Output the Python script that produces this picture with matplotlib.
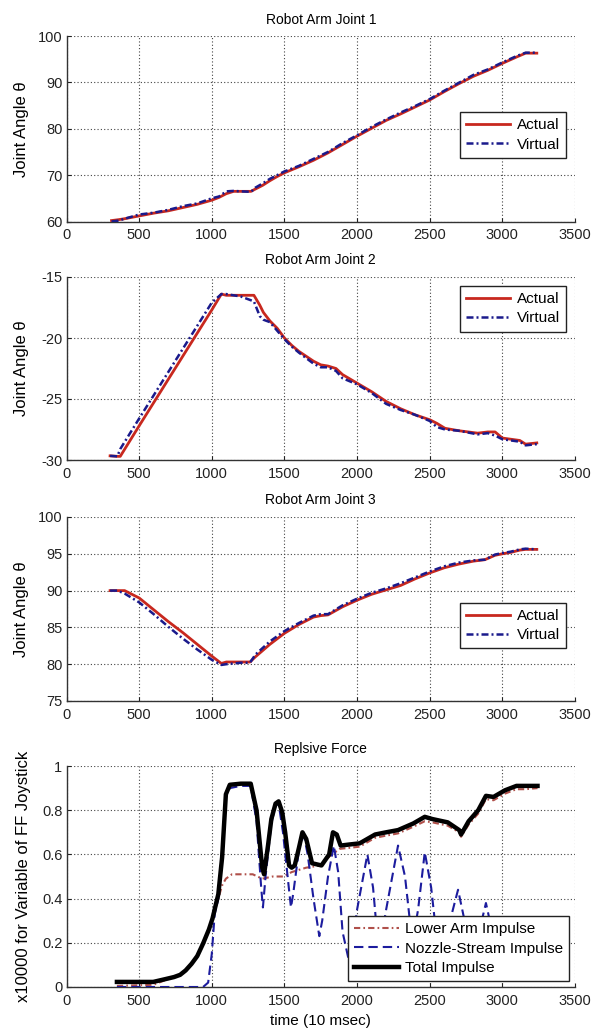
import matplotlib
matplotlib.use("Agg")
import matplotlib.pyplot as plt
from matplotlib.lines import Line2D

# ---------------- data ----------------
# Joint 1
x1 = [310, 360, 400, 500, 600, 700, 800, 900, 1000, 1050, 1100, 1150, 1200, 1270, 1300, 1350,
      1400, 1450, 1500, 1600, 1700, 1800, 1900, 2000, 2100, 2200, 2300, 2400, 2500, 2600,
      2700, 2800, 2900, 3000, 3100, 3160, 3237]
actual1 = [60.2, 60.4, 60.6, 61.2, 61.8, 62.3, 63.0, 63.7, 64.6, 65.2, 66.0, 66.5, 66.5, 66.5,
           67.0, 67.8, 68.8, 69.7, 70.5, 71.8, 73.2, 74.8, 76.6, 78.4, 80.1, 81.8, 83.2, 84.7,
           86.2, 88.0, 89.7, 91.3, 92.6, 94.1, 95.5, 96.3, 96.3]
virtual1 = [60.0, 60.2, 60.6, 61.5, 61.9, 62.5, 63.3, 63.9, 65.0, 65.4, 66.5, 66.6, 66.5, 66.4,
            67.3, 68.2, 69.2, 70.0, 70.8, 72.0, 73.5, 75.0, 76.9, 78.6, 80.4, 82.0, 83.5, 84.9,
            86.4, 88.2, 89.9, 91.6, 92.8, 94.3, 95.7, 96.4, 96.4]

# Joint 2
x2 = [300, 350, 370, 500, 600, 700, 800, 900, 1000, 1066, 1100, 1200, 1290, 1330, 1355, 1400,
      1450, 1500, 1550, 1600, 1700, 1750, 1800, 1855, 1900, 2000, 2100, 2200, 2300, 2400, 2500,
      2550, 2605, 2700, 2830, 2900, 2950, 3000, 3060, 3120, 3160, 3237]
actual2 = [-29.66, -29.7, -29.7, -27.2, -25.3, -23.4, -21.5, -19.6, -17.7, -16.4, -16.5, -16.5,
           -16.5, -17.3, -17.9, -18.6, -19.2, -20.0, -20.6, -21.1, -21.9, -22.2, -22.3, -22.5,
           -23.0, -23.7, -24.4, -25.2, -25.8, -26.3, -26.7, -27.0, -27.4, -27.6, -27.8, -27.7,
           -27.7, -28.2, -28.3, -28.4, -28.7, -28.6]
virtual2 = [-29.66, -29.7, -29.1, -26.6, -24.7, -22.8, -20.9, -19.0, -17.1, -16.4, -16.4, -16.6,
            -17.0, -18.2, -18.5, -18.7, -19.4, -20.1, -20.7, -21.2, -22.1, -22.4, -22.4, -22.7,
            -23.3, -23.8, -24.5, -25.4, -25.9, -26.3, -26.8, -27.3, -27.5, -27.6, -27.9, -27.8,
            -28.0, -28.3, -28.4, -28.5, -28.8, -28.7]

# Joint 3
x3 = [300, 350, 400, 500, 600, 700, 800, 900, 1000, 1066, 1100, 1200, 1263, 1300, 1400, 1500,
      1600, 1700, 1750, 1800, 1900, 2000, 2100, 2200, 2300, 2400, 2500, 2600, 2700, 2800, 2880,
      2950, 3000, 3060, 3120, 3160, 3237]
actual3 = [90.0, 90.0, 90.0, 89.0, 87.4, 85.8, 84.3, 82.7, 81.1, 80.1, 80.3, 80.3, 80.3, 81.0,
           82.7, 84.2, 85.4, 86.4, 86.6, 86.7, 87.8, 88.7, 89.5, 90.1, 90.7, 91.6, 92.4, 93.1,
           93.6, 94.0, 94.2, 94.8, 95.0, 95.2, 95.5, 95.6, 95.6]
virtual3 = [90.0, 90.0, 89.6, 88.4, 86.8, 85.1, 83.5, 82.0, 80.6, 79.9, 80.0, 80.2, 80.2, 81.3,
            83.1, 84.5, 85.6, 86.6, 86.8, 86.8, 88.0, 88.9, 89.7, 90.3, 91.0, 91.8, 92.6, 93.3,
            93.8, 94.1, 94.2, 94.9, 95.1, 95.3, 95.6, 95.7, 95.6]

# Repulsive force
x_total = [347, 597, 676, 740, 782, 820, 861, 900, 939, 980, 1005, 1045, 1071, 1097, 1124, 1200,
           1268, 1308, 1347, 1360, 1387, 1410, 1439, 1460, 1485, 1505, 1532, 1550, 1571, 1600,
           1624, 1650, 1690, 1755, 1808, 1834, 1860, 1887, 1950, 2018, 2124, 2200, 2282, 2387,
           2466, 2518, 2624, 2703, 2716, 2768, 2834, 2887, 2939, 3018, 3097, 3160, 3242]
total = [0.023, 0.023, 0.035, 0.045, 0.055, 0.075, 0.105, 0.14, 0.195, 0.26, 0.31, 0.42, 0.586,
         0.872, 0.915, 0.92, 0.92, 0.80, 0.54, 0.51, 0.64, 0.76, 0.83, 0.84, 0.79, 0.70, 0.55,
         0.54, 0.55, 0.63, 0.70, 0.67, 0.56, 0.55, 0.60, 0.70, 0.69, 0.64, 0.645, 0.65, 0.69,
         0.70, 0.71, 0.74, 0.77, 0.76, 0.745, 0.71, 0.69, 0.75, 0.80, 0.865, 0.86, 0.89, 0.91,
         0.91, 0.91]
x_lower = [347, 597, 676, 740, 782, 820, 861, 900, 939, 980, 1005, 1045, 1071, 1097, 1139, 1200,
           1282, 1347, 1420, 1492, 1550, 1650, 1750, 1808, 1880, 1950, 2018, 2124, 2200, 2282,
           2387, 2466, 2518, 2624, 2703, 2716, 2768, 2834, 2887, 2939, 3018, 3097, 3160, 3242]
lower = [0.005, 0.01, 0.03, 0.045, 0.055, 0.075, 0.105, 0.14, 0.195, 0.26, 0.31, 0.40, 0.46, 0.49,
         0.51, 0.51, 0.51, 0.49, 0.50, 0.50, 0.52, 0.54, 0.55, 0.59, 0.625, 0.63, 0.635, 0.675,
         0.685, 0.695, 0.725, 0.75, 0.745, 0.73, 0.70, 0.68, 0.735, 0.785, 0.85, 0.845, 0.875,
         0.895, 0.895, 0.90]
x_nozzle = [347, 940, 975, 1000, 1020, 1045, 1071, 1097, 1124, 1200, 1268, 1308, 1340, 1352, 1370,
            1410, 1439, 1460, 1490, 1530, 1545, 1560, 1600, 1630, 1660, 1700, 1740, 1760, 1800,
            1840, 1870, 1900, 1950, 2000, 2071, 2110, 2150, 2200, 2282, 2330, 2380, 2420, 2466,
            2510, 2560, 2620, 2695, 2740, 2780, 2840, 2887, 2930, 2980, 3050, 3120, 3180, 3242]
nozzle = [0.0, 0.0, 0.02, 0.15, 0.33, 0.40, 0.58, 0.86, 0.90, 0.91, 0.91, 0.75, 0.45, 0.36, 0.50,
          0.74, 0.82, 0.83, 0.70, 0.45, 0.36, 0.42, 0.62, 0.70, 0.60, 0.40, 0.23, 0.30, 0.50,
          0.64, 0.52, 0.25, 0.10, 0.35, 0.60, 0.45, 0.15, 0.35, 0.64, 0.50, 0.20, 0.35, 0.61,
          0.45, 0.15, 0.25, 0.44, 0.30, 0.10, 0.25, 0.38, 0.25, 0.08, 0.20, 0.12, 0.05, 0.10]

titles = ["Robot Arm Joint 1", "Robot Arm Joint 2", "Robot Arm Joint 3", "Replsive Force"]
joint_ylabel = "Joint Angle \u03b8"
force_ylabel = "x10000 for Variable of FF Joystick"
force_xlabel = "time (10 msec)"
xticks = [0, 500, 1000, 1500, 2000, 2500, 3000, 3500]
yticks1 = [60, 70, 80, 90, 100]
yticks2 = [-30, -25, -20, -15]
yticks3 = [75, 80, 85, 90, 95, 100]
yticks4 = [0, 0.2, 0.4, 0.6, 0.8, 1]
yticklabels4 = ["0", "0.2", "0.4", "0.6", "0.8", "1"]
joint_legend = ["Actual", "Virtual"]
force_legend = ["Lower Arm Impulse", "Nozzle-Stream Impulse", "Total Impulse"]

# ---------------- style ----------------
plt.rcParams['font.family'] = ['Liberation Sans', 'DejaVu Sans']
plt.rcParams['axes.unicode_minus'] = False

RED = '#c8281e'
NAVY = '#1a1a8c'
LRED = '#b0504a'
BLUE = '#1c1c9e'
VIRT_DASH = (0, (2.8, 1.2, 0.8, 1.2))
LOW_DASH = (0, (3.0, 1.5, 0.8, 1.5))
NOZ_DASH = (0, (4.5, 2.4))

W, H = 599, 1031
fig = plt.figure(figsize=(W / 100, H / 100), dpi=100)

left_px, right_px = 66.5, 575.0
panels_px = [(36, 221.5), (277, 460), (517, 701), (766, 987)]


def make_ax(top, bot):
    return fig.add_axes([left_px / W, 1 - bot / H, (right_px - left_px) / W, (bot - top) / H])


def style(ax, yt, ylim, ytl=None):
    ax.set_xlim(0, 3500)
    ax.set_ylim(*ylim)
    ax.set_xticks(xticks)
    ax.set_yticks(yt)
    if ytl is not None:
        ax.set_yticklabels(ytl)
    ax.tick_params(direction='in', length=3, width=0.8, labelsize=10.5, colors='#222222',
                   top=False, right=False)
    ax.tick_params(axis='x', pad=5)
    ax.tick_params(axis='y', pad=3)
    for s in ['top', 'right']:
        ax.spines[s].set_visible(False)
    for s in ['left', 'bottom']:
        ax.spines[s].set_color('#333333')
        ax.spines[s].set_linewidth(1.0)
    ax.grid(True, color='#444444', linestyle=(0, (1, 2)), linewidth=0.8)
    ax.set_axisbelow(True)


def leg(ax, handles, labels, **kw):
    lg = ax.legend(handles, labels, fontsize=11, fancybox=False, framealpha=1,
                   edgecolor='#222222', handlelength=2.9, handletextpad=0.4,
                   labelspacing=0.35, borderpad=0.4, borderaxespad=0, **kw)
    lg.get_frame().set_linewidth(1.0)
    lg.set_zorder(10)
    return lg


joint_data = [(x1, actual1, virtual1, yticks1, (60, 100)),
              (x2, actual2, virtual2, yticks2, (-30, -15)),
              (x3, actual3, virtual3, yticks3, (75, 100))]
legend_anchor = [(0.982, 0.590), (0.982, 0.951), (0.982, 0.533)]

for i, (xs, act, vir, yt, yl) in enumerate(joint_data):
    ax = make_ax(*panels_px[i])
    style(ax, yt, yl)
    ax.plot(xs, act, color=RED, lw=2.0, zorder=3)
    ax.plot(xs, vir, color=NAVY, lw=1.8, linestyle=VIRT_DASH, zorder=4)
    ax.set_title(titles[i], fontsize=10, pad=9)
    ax.set_ylabel(joint_ylabel, fontsize=12)
    ax.yaxis.set_label_coords(-0.074, 0.5)
    hs = [Line2D([], [], color=RED, lw=2.0),
          Line2D([], [], color=NAVY, lw=1.8, linestyle=VIRT_DASH)]
    leg(ax, hs, joint_legend, loc='upper right', bbox_to_anchor=legend_anchor[i])

ax4 = make_ax(*panels_px[3])
style(ax4, yticks4, (0, 1), yticklabels4)
ax4.plot(x_lower, lower, color=LRED, lw=1.5, linestyle=LOW_DASH, zorder=2)
ax4.plot(x_nozzle, nozzle, color=BLUE, lw=1.5, linestyle=NOZ_DASH, zorder=3)
ax4.plot(x_total, total, color='black', lw=3.2, zorder=4, solid_joinstyle='round')
ax4.set_title(titles[3], fontsize=10, pad=9)
ax4.set_ylabel(force_ylabel, fontsize=12)
ax4.yaxis.set_label_coords(-0.070, 0.5)
ax4.set_xlabel(force_xlabel, fontsize=11, labelpad=4)
hs4 = [Line2D([], [], color=LRED, lw=1.5, linestyle=LOW_DASH),
       Line2D([], [], color=BLUE, lw=1.5, linestyle=NOZ_DASH),
       Line2D([], [], color='black', lw=3.2)]
leg(ax4, hs4, force_legend, loc='lower right', bbox_to_anchor=(0.988, 0.027))

fig.savefig("out.png", dpi=100, facecolor='white')
